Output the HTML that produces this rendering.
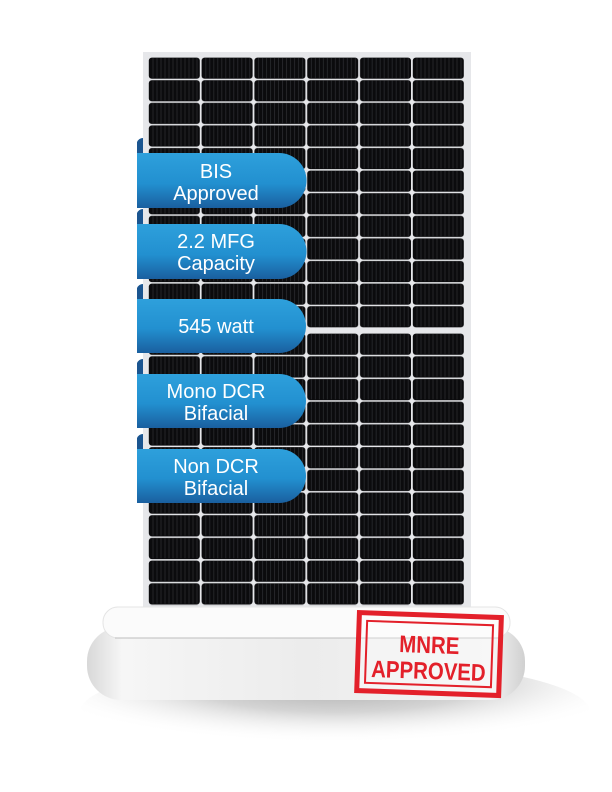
<!DOCTYPE html><html><head><style>body{margin:0;background:#fff}svg{display:block}text{font-family:"Liberation Sans",sans-serif}</style></head><body>
<svg width="612" height="792" viewBox="0 0 612 792" xmlns="http://www.w3.org/2000/svg">
<defs>
<pattern id="cell" x="148" y="57" width="52.8" height="22.6" patternUnits="userSpaceOnUse">
<rect x="0.8" y="0.6" width="51" height="21.2" rx="3" fill="#0b0b0d"/>
<path d="M5 1v20M9 1v20M13 1v20M17 1v20M21 1v20M25 1v20M29 1v20M33 1v20M37 1v20M41 1v20M45 1v20M49 1v20" stroke="#2a2b2f" stroke-width="0.8"/>
</pattern>
<pattern id="cell2" x="148" y="333" width="52.8" height="22.7" patternUnits="userSpaceOnUse">
<rect x="0.8" y="0.6" width="51" height="21.2" rx="3" fill="#0b0b0d"/>
<path d="M5 1v20M9 1v20M13 1v20M17 1v20M21 1v20M25 1v20M29 1v20M33 1v20M37 1v20M41 1v20M45 1v20M49 1v20" stroke="#2a2b2f" stroke-width="0.8"/>
</pattern>
<linearGradient id="bl" x1="0" y1="0" x2="0" y2="1"><stop offset="0" stop-color="#2ea0dc"/><stop offset="0.55" stop-color="#2290d0"/><stop offset="1" stop-color="#1a5f9f"/></linearGradient>
<linearGradient id="base" x1="0" y1="0" x2="1" y2="0"><stop offset="0" stop-color="#d8d8d8"/><stop offset="0.08" stop-color="#f6f6f6"/><stop offset="0.5" stop-color="#ececec"/><stop offset="0.92" stop-color="#f4f4f4"/><stop offset="1" stop-color="#d0d0d0"/></linearGradient>
<radialGradient id="sh" cx="0.5" cy="0.2" r="0.6"><stop offset="0" stop-color="#a8a8a8"/><stop offset="0.5" stop-color="#d4d4d4"/><stop offset="1" stop-color="#fff" stop-opacity="0"/></radialGradient>
</defs>
<ellipse cx="335" cy="712" rx="255" ry="52" fill="url(#sh)"/>
<rect x="143" y="52" width="328" height="560" fill="#e6e7ea"/>
<rect x="148" y="57" width="317" height="271" fill="url(#cell)"/>
<rect x="148" y="333" width="317" height="273" fill="url(#cell2)"/>
<rect x="87" y="627" width="438" height="73" rx="34" fill="url(#base)"/>
<rect x="103" y="607" width="407" height="31" rx="15" fill="#fbfbfb" stroke="#e4e4e4"/>
<line x1="115" y1="638" x2="500" y2="638" stroke="#bdbdbd" stroke-width="1"/>
<g transform="rotate(2 428 655)">
<rect x="358" y="615" width="142" height="78" fill="#fff" fill-opacity="0.3" stroke="#e3202a" stroke-width="5"/>
<rect x="366" y="623" width="126" height="62" fill="none" stroke="#e3202a" stroke-width="2"/>
<text x="429" y="653" font-size="24" font-weight="bold" fill="#e3202a" text-anchor="middle" transform="translate(429 0) scale(0.85 1) translate(-429 0)">MNRE</text>
<text x="429" y="679" font-size="24" font-weight="bold" fill="#e3202a" text-anchor="middle" transform="translate(429 0) scale(0.85 1) translate(-429 0)">APPROVED</text>
</g>
<g fill="url(#bl)">
<path d="M137 153h142a27 27 0 0 1 0 55h-142z"/>
<path d="M137 224h142a27 27 0 0 1 0 55h-142z"/>
<path d="M137 299h142a27 27 0 0 1 0 54h-142z"/>
<path d="M137 374h142a27 27 0 0 1 0 54h-142z"/>
<path d="M137 449h142a27 27 0 0 1 0 54h-142z"/>
</g>
<g fill="#1a5590">
<path d="M137 142q2-4 6-4v15h-6z"/><path d="M137 213q2-4 6-4v15h-6z"/><path d="M137 288q2-4 6-4v15h-6z"/><path d="M137 363q2-4 6-4v15h-6z"/><path d="M137 438q2-4 6-4v15h-6z"/>
</g>
<g fill="#fff" font-size="20" text-anchor="middle">
<text x="216" y="178">BIS</text><text x="216" y="200">Approved</text>
<text x="216" y="248">2.2 MFG</text><text x="216" y="270">Capacity</text>
<text x="216" y="333">545 watt</text>
<text x="216" y="398">Mono DCR</text><text x="216" y="420">Bifacial</text>
<text x="216" y="473">Non DCR</text><text x="216" y="495">Bifacial</text>
</g>
</svg>
</body></html>
